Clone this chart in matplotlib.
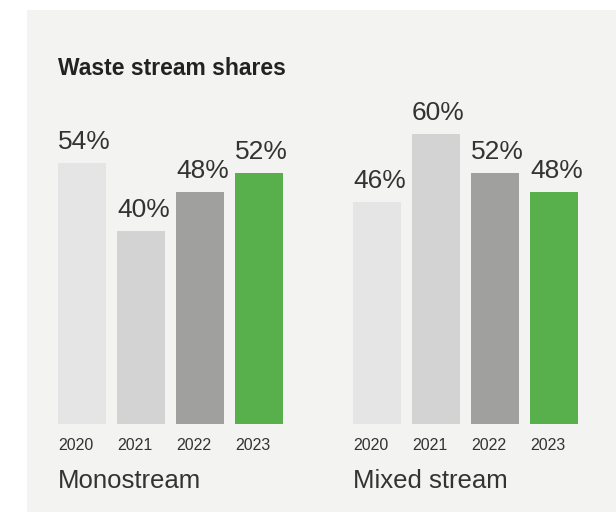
import matplotlib.pyplot as plt
from matplotlib.patches import Rectangle

plt.rcParams['font.family'] = ['Liberation Sans', 'DejaVu Sans']

title = "Waste stream shares"
years = ["2020", "2021", "2022", "2023"]
groups = ["Monostream", "Mixed stream"]
monostream = [54, 40, 48, 52]
mixed_stream = [46, 60, 52, 48]
colors = ["#e5e5e5", "#d3d3d3", "#a0a09e", "#58b04c"]
text_color = "#333333"

W, H = 616, 513
fig = plt.figure(figsize=(W / 100, H / 100), dpi=100)
fig.patch.set_facecolor("white")

# grey card behind everything
card = Rectangle((27 / W, 1 / H), 1 - 27 / W, (512 - 10) / H,
                 transform=fig.transFigure, facecolor="#f3f3f2",
                 edgecolor="none", zorder=-10)
fig.add_artist(card)

fig.text(58 / W, 1 - 75 / H, title, fontsize=16.5, fontweight="bold",
         color="#222222", va="baseline", ha="left")

bw = 48 / 59
ax_w = 225 / W
ax_h = 290 / H
ax_bottom = (H - 424) / H
lefts = [58 / W, 353 / W]

for left, name, vals in zip(lefts, groups, [monostream, mixed_stream]):
    ax = fig.add_axes([left, ax_bottom, ax_w, ax_h])
    ax.set_facecolor("none")
    x = range(len(vals))
    ax.bar(x, vals, width=bw, color=colors)
    ax.set_xlim(-bw / 2, len(vals) - 1 + bw / 2)
    ax.set_ylim(0, 60)
    ax.axis("off")
    for i, v in enumerate(vals):
        ax.annotate(f"{v}%", (i - bw / 2, v), xytext=(0, 10),
                    textcoords="offset points", ha="left", va="baseline",
                    fontsize=19, color=text_color, annotation_clip=False)
        ax.annotate(years[i], (i - bw / 2, 0), xycoords=("data", "axes fraction"),
                    xytext=(0, -19), textcoords="offset points",
                    ha="left", va="baseline", fontsize=11.5, color=text_color,
                    annotation_clip=False)
    ax.annotate(name, (-bw / 2, 0), xycoords=("data", "axes fraction"),
                xytext=(0, -46), textcoords="offset points",
                ha="left", va="baseline", fontsize=18.5, color=text_color,
                annotation_clip=False)

fig.savefig("out.png", dpi=100)
